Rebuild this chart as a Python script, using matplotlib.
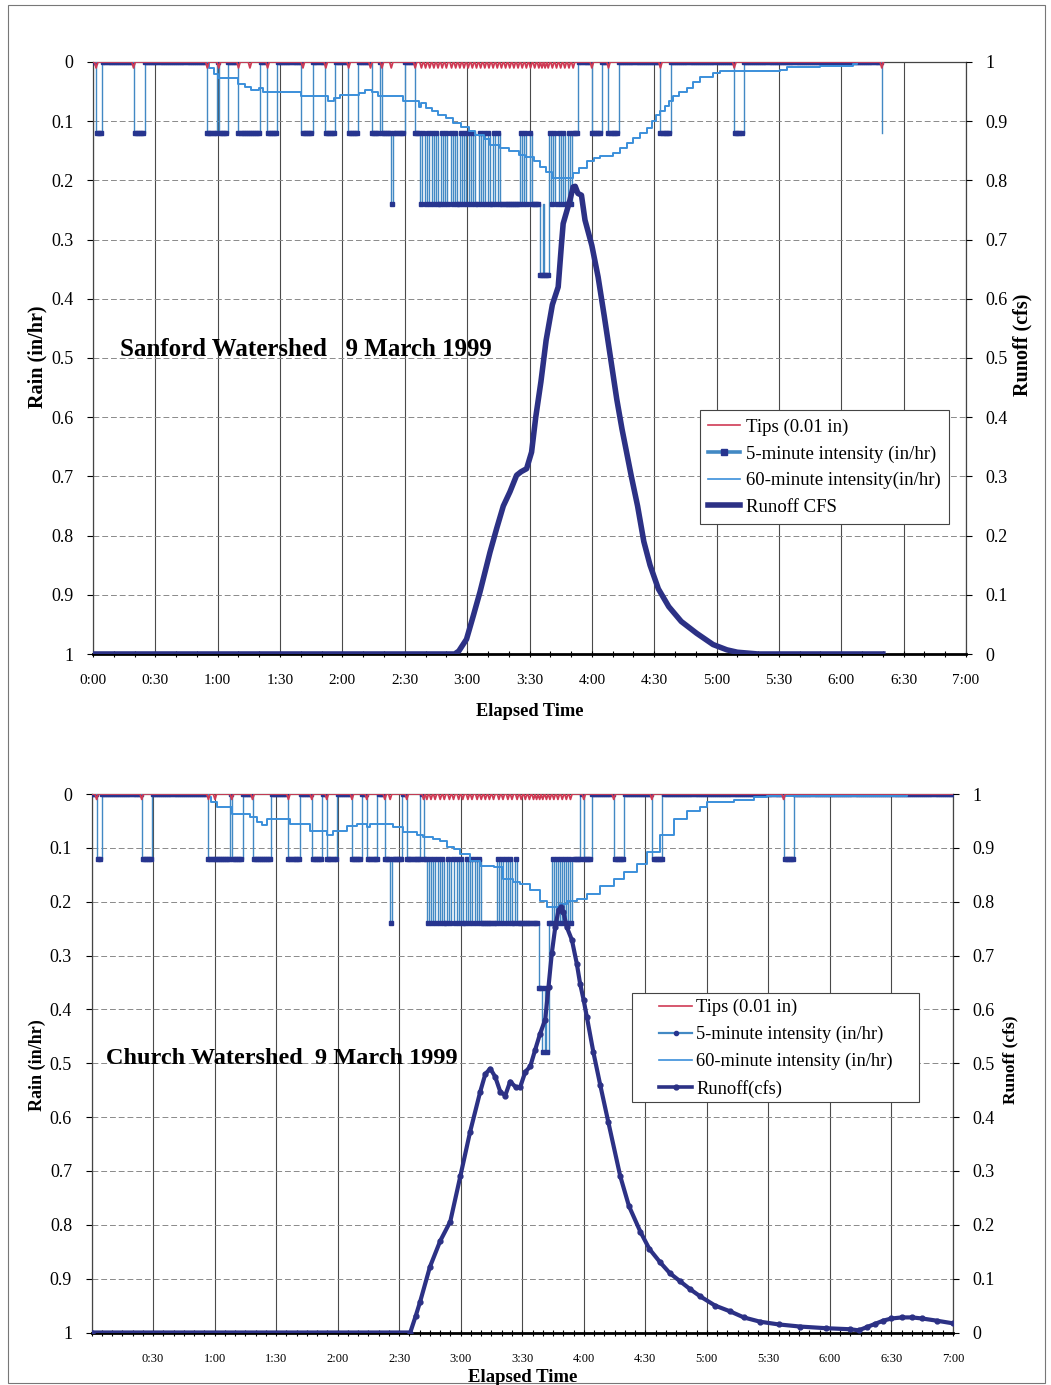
import numpy as np
import matplotlib.pyplot as plt
from matplotlib.lines import Line2D
from matplotlib.patches import Rectangle

plt.rcParams["font.family"] = ["Liberation Serif", "DejaVu Serif"]

W, H = 1051, 1385

# times are minutes after 0:00, rain in in/hr, runoff in cfs
time_ticks = list(range(0, 421, 30))
time_labels = ["0:00", "0:30", "1:00", "1:30", "2:00", "2:30", "3:00", "3:30",
               "4:00", "4:30", "5:00", "5:30", "6:00", "6:30", "7:00"]

# ---------------- Sanford ----------------
sanford_tips = [1.5, 19.5, 55, 60.5, 70, 75.5, 84, 101, 112, 123, 133.5, 139, 143.5, 155,
                158, 160, 162, 164, 166, 168, 170, 172.5, 174.5, 176.5, 178.5, 180.5,
                182.5, 184.5, 186.5, 188.5, 190.5, 192.5, 194.5, 196.5, 198.5, 200.5,
                202.5, 204.5, 206.5, 208.5, 210.5, 212.5, 214.5, 216, 217.5, 219, 221,
                223, 225, 227, 229, 231, 240, 248, 273, 308.5, 379.5]

sanford_5min = [(0, 0), (1.5, .12), (4.5, 0), (19.5, .12), (25, 0), (54.7, .12), (59.5, 0),
                (60.5, .12), (65, 0), (70, .12), (80.3, 0), (83.5, .12), (88.3, 0),
                (100.3, .12), (106, 0), (111.5, .12), (116.3, 0), (122.7, .12), (127.5, 0),
                (134, .12), (138, 0), (139, .12), (143.3, .24), (144.3, .12), (150, 0),
                (155, .12), (157.5, .24), (158.5, .12), (159.5, .24), (160.5, .12),
                (161.5, .24), (163, .12), (164, .24), (165, .12), (166, .24), (167.5, .12),
                (168.5, .24), (169.5, .12), (170.5, .24), (172, .12), (173, .24), (174, .12),
                (175, .24), (176.5, .12), (177.5, .24), (178.5, .12), (179.5, .24),
                (181, .12), (182, .24), (183, .12), (184, .24), (185.5, .12), (186.5, .24),
                (187.5, .12), (188.5, .24), (190, .12), (191, .24), (192.5, .12),
                (193.5, .24), (195, .12), (196, .24), (205.5, .12), (206.5, .24),
                (207.5, .12), (208.5, .24), (210, .12), (211, .24), (215, .36),
                (216.5, .24), (217, .36), (219.5, .12), (220.5, .24), (221.5, .12),
                (222.5, .24), (224, .12), (225, .24), (226, .12), (227, .24), (228.5, .12),
                (229.5, .24), (230.3, .12), (233.5, 0), (240, .12), (245, 0), (248, .12),
                (253, 0), (273, .12), (278, 0), (308.5, .12), (313, 0), (379.5, .12)]

sanford_60min = [(0, 0), (56, .01), (58, .02), (60, .027), (70, .038), (73, .042), (76, .047),
                 (80, .044), (82, .05), (100, .058), (113, .066), (116, .06), (119, .055),
                 (128, .052), (131, .047), (134, .05), (137, .057), (149, .066), (157, .076),
                 (158, .07), (160, .078), (163, .083), (166, .09), (170, .095), (173, .103),
                 (177, .11), (181, .117), (184, .123), (188, .13), (191, .14), (196, .145),
                 (200, .15), (205, .157), (208, .16), (212, .168), (215, .178), (218, .185),
                 (221, .196), (228, .196), (231, .188), (234, .179), (237.5, .168),
                 (241, .163), (244, .159), (250, .154), (253.5, .145), (257, .137),
                 (260, .128), (263, .12), (266.4, .111), (269, .1), (271, .09), (273, .083),
                 (275, .075), (277, .066), (279, .058), (282, .05), (285.6, .044),
                 (288.8, .033), (292, .026), (298.5, .019), (301.7, .016), (330.5, .013),
                 (333.8, .008), (349.8, .006), (365.8, .003), (367.4, 0), (380, 0)]

sanford_runoff = [(0, 0), (174, 0), (176, .005), (179.7, .025), (183, .065), (186.2, .105),
                  (191, .172), (194.2, .212), (197.4, .25), (200.6, .274), (203.8, .302),
                  (206, .308), (208.6, .313), (211, .341), (213, .4), (215.5, .46),
                  (218, .53), (221, .59), (223.8, .62), (225.4, .693), (226.2, .727),
                  (229.4, .766), (231, .789), (232, .79), (233.3, .778), (235, .775),
                  (236.7, .733), (240, .69), (243, .637), (246, .57), (249, .5), (252, .43),
                  (254.5, .38), (256.7, .341), (259, .3), (262, .25), (265, .19),
                  (268, .15), (272, .11), (277, .08), (283, .055), (290.4, .035),
                  (298.3, .016), (305, .007), (310, .003), (320, 0), (380, 0)]

# ---------------- Church ----------------
church_tips = [2.5, 24.5, 57, 60.2, 68.4, 78.5, 96, 107.4, 114.7, 127, 134.2, 143, 145.6,
               153.7, 161.9, 163.5, 165.5, 167.5, 170, 172, 174.5, 176.5, 179, 181, 183.5,
               185.5, 188, 190, 192, 194, 196, 198.6, 200.6, 203, 205, 207.5, 209.5, 211.5,
               213.5, 215.5, 217, 218.5, 220, 221.8, 223.5, 225.4, 227.4, 229.5, 231.5,
               233.5, 240, 254.6, 273.2, 337.4]

church_5min = [(0, 0), (2.5, .12), (5, 0), (24.5, .12), (29.5, 0), (57, .12), (67.5, 0),
               (68.4, .12), (74, 0), (78.5, .12), (87.5, 0), (96, .12), (101.7, 0),
               (107.4, .12), (112.3, 0), (114.7, .12), (119.6, 0), (126.9, .12), (131.8, 0),
               (134.2, .12), (139.1, 0), (143, .12), (145.6, .24), (146.6, .12), (151.3, 0),
               (153.7, .12), (160.2, 0), (161.9, .12), (163.5, .24), (164.5, .12),
               (165.5, .24), (166.5, .12), (167.5, .24), (169, .12), (170, .24), (171, .12),
               (172, .24), (173.5, .12), (174.5, .24), (175.5, .12), (176.5, .24),
               (178, .12), (179, .24), (180, .12), (181, .24), (182.5, .12), (183.5, .24),
               (184.5, .12), (185.5, .24), (187, .12), (188, .24), (189, .12), (190, .24),
               (197.6, .12), (198.6, .24), (199.6, .12), (200.6, .24), (202, .12),
               (203, .24), (204, .12), (205, .24), (206.5, .12), (207.5, .24), (218, .36),
               (219.5, .48), (221, .36), (221.8, .48), (222.8, .24), (224.4, .12),
               (225.4, .24), (226.4, .12), (227.4, .24), (228.5, .12), (229.5, .24),
               (230.5, .12), (231.5, .24), (232.5, .12), (233.5, .24), (234.2, .12),
               (238.2, 0), (240, .12), (244, 0), (254.6, .12), (259.4, 0), (273.2, .12),
               (278.1, 0), (337.4, .12), (342.3, 0), (420, 0)]

church_60min = [(0, 0), (57, .005), (58.5, .015), (61, .025), (68.3, .037), (77.3, .043),
                (80.5, .052), (83, .058), (85.4, .046), (96.8, .055), (106.5, .068),
                (114.7, .077), (117.9, .068), (124.4, .06), (129.3, .056), (134.2, .062),
                (136, .056), (147.2, .062), (152, .071), (158.6, .077), (161.8, .08),
                (166.7, .083), (170, .088), (173.2, .099), (176.5, .102), (179.7, .111),
                (184.6, .124), (189.5, .133), (196, .136), (200.8, .158), (205.7, .164),
                (209, .167), (213.9, .179), (218.7, .198), (222, .21), (228.5, .204),
                (232, .198), (236.6, .195), (241.5, .185), (248, .17), (254.5, .158),
                (259.4, .145), (265.9, .13), (270.8, .108), (277.3, .077), (283.8, .046),
                (290.3, .031), (296.8, .025), (300, .015), (313, .012), (322.8, .006),
                (329.3, .003), (397.6, 0), (420, 0)]

church_runoff = [(0, 0), (155.4, 0), (158, .03), (160.2, .057), (165, .122), (170, .17),
                 (174.9, .206), (179.8, .29), (184.6, .373), (189.5, .447), (192, .48),
                 (194.4, .49), (196.8, .475), (199.3, .447), (201.7, .44), (204.1, .466),
                 (207, .455), (209, .456), (211.5, .484), (213.9, .494), (216.3, .525),
                 (218.7, .555), (221.2, .581), (222.8, .642), (224.4, .704), (226.1, .753),
                 (227.7, .785), (229, .79), (230.1, .78), (231.7, .753), (234.2, .729),
                 (236.6, .685), (238.2, .648), (239.9, .618), (241.5, .586), (244.7, .52),
                 (248, .46), (252, .39), (257.8, .29), (262, .235), (267.6, .187),
                 (272, .155), (277.3, .13), (282, .11), (287, .095), (292, .08),
                 (296.8, .067), (304, .05), (311.5, .039), (318, .028), (326, .02),
                 (335, .015), (345.6, .011), (358, .008), (370, .006), (374, .004),
                 (378, .01), (382, .016), (386, .022), (390, .026), (395, .028), (400, .028),
                 (405, .026), (412, .022), (420, .017)]

TIPS_C = "#cf3b55"
FIVE_C = "#4289c4"
MARK_C = "#27358f"
SIXTY_C = "#3b8fda"
RUN_C = "#2c3185"


def px_axes(fig, x0, y0, x1, y1):
    return fig.add_axes([x0 / W, 1 - y1 / H, (x1 - x0) / W, (y1 - y0) / H])


def split(pairs):
    a = np.array(pairs, dtype=float)
    return a[:, 0], a[:, 1]


def tip_trace(tips, end):
    xs, ys = [0.0], [0.0]
    for t in tips:
        xs += [t - 0.8, t, t + 0.8]
        ys += [0, 0.01, 0]
    xs.append(end)
    ys.append(0)
    return xs, ys


def draw_panel(ax, tips, five, sixty, runoff, end, run_markers, xlab_size, show_zero):
    t5, v5 = split(five)
    t60, v60 = split(sixty)
    tr, vr = split(runoff)

    ax.set_xlim(0, 420)
    ax.set_ylim(1, 0)
    ax.set_xticks(time_ticks)
    labels = list(time_labels)
    if not show_zero:
        labels[0] = ""
    ax.set_xticklabels(labels, fontsize=xlab_size)
    ax.set_xticks(np.arange(0, 421, 5 if not show_zero else 10), minor=True)
    ax.set_yticks(np.arange(0, 1.01, 0.1))
    ax.set_yticklabels(["0"] + ["%.1f" % v for v in np.arange(0.1, 0.95, 0.1)] + ["1"],
                       fontsize=13)
    ax.grid(axis="x", color="#4a4a4a", lw=0.8)
    ax.grid(axis="y", color="#8a8a8a", lw=0.7, ls=(0, (6, 3)))
    ax.tick_params(axis="x", which="major", length=5, pad=12, direction="inout")
    ax.tick_params(axis="x", which="minor", length=4, direction="inout", width=0.8)
    ax.tick_params(axis="y", length=4, pad=10)
    for s in ("top", "left", "right"):
        ax.spines[s].set_color("#444444")
        ax.spines[s].set_linewidth(0.9)
    ax.spines["bottom"].set_linewidth(2.0)
    ax.spines["bottom"].set_color("black")

    # 5-minute intensity: steps, with a marker at each one-minute reading
    ax.plot(t5, v5, drawstyle="steps-post", color=FIVE_C, lw=1.0, zorder=3)
    mins = np.arange(0, t5[-1] + 0.01, 1.0)
    idx = np.clip(np.searchsorted(t5, mins, side="right") - 1, 0, None)
    ax.plot(mins, v5[idx], ls="none", marker="s", ms=2.6, color=MARK_C, zorder=3)
    ax.plot(t60, v60, drawstyle="steps-post", color=SIXTY_C, lw=1.4, zorder=4)
    tx, ty = tip_trace(tips, end)
    ax.plot(tx, ty, color=TIPS_C, lw=1.3, zorder=5)

    ax2 = ax.twinx()
    ax2.set_ylim(0, 1)
    ax2.set_yticks(np.arange(0, 1.01, 0.1))
    ax2.set_yticklabels(["0"] + ["%.1f" % v for v in np.arange(0.1, 0.95, 0.1)] + ["1"],
                        fontsize=13)
    ax2.tick_params(axis="y", length=4, pad=10)
    for s in ax2.spines.values():
        s.set_visible(False)
    if run_markers:
        ax2.plot(tr, vr, color=RUN_C, lw=3.0, marker="o", ms=3.5, zorder=6)
    else:
        ax2.plot(tr, vr, color=RUN_C, lw=4.0, zorder=6)
    return ax2


fig = plt.figure(figsize=(W / 100, H / 100), dpi=100)
fig.patch.set_facecolor("white")

# top panel: Sanford
ax_s = px_axes(fig, 93, 62, 966, 654)
ax_s2 = draw_panel(ax_s, sanford_tips, sanford_5min, sanford_60min, sanford_runoff,
                   380, False, 11, True)
h_s = [Line2D([], [], color=TIPS_C, lw=1.2),
       Line2D([], [], color=FIVE_C, lw=2.6, marker="s", ms=4, mfc=MARK_C, mec=MARK_C),
       Line2D([], [], color=SIXTY_C, lw=1.2),
       Line2D([], [], color=RUN_C, lw=4)]
ax_s2.legend(h_s, ["Tips (0.01 in)", "5-minute intensity (in/hr)",
                   "60-minute intensity(in/hr)", "Runoff CFS"],
             loc="upper left", bbox_to_anchor=(0.695, 0.412), fontsize=13.5,
             frameon=True, fancybox=False, edgecolor="#444444", framealpha=1,
             handlelength=1.7, handletextpad=0.3, borderpad=0.45, labelspacing=0.5,
             borderaxespad=0)
ax_s2.get_legend().get_frame().set_linewidth(0.8)

fig.text(120 / W, 1 - 350 / H, "Sanford Watershed   9 March 1999", fontsize=18,
         fontweight="bold", ha="left", va="center")
fig.text(37 / W, 1 - 357 / H, "Rain (in/hr)", fontsize=14.5, fontweight="bold",
         rotation=90, ha="center", va="center")
fig.text(1022 / W, 1 - 345 / H, "Runoff (cfs)", fontsize=14.5, fontweight="bold",
         rotation=90, ha="center", va="center")
fig.text(530 / W, 1 - 712 / H, "Elapsed Time", fontsize=13.2, fontweight="bold",
         ha="center", va="center")

# bottom panel: Church
ax_c = px_axes(fig, 91.5, 794, 953, 1332.5)
ax_c2 = draw_panel(ax_c, church_tips, church_5min, church_60min, church_runoff,
                   420, True, 9, False)
h_c = [Line2D([], [], color=TIPS_C, lw=1.2),
       Line2D([], [], color=FIVE_C, lw=1.6, marker="o", ms=3, mfc=MARK_C, mec=MARK_C),
       Line2D([], [], color=SIXTY_C, lw=1.2),
       Line2D([], [], color=RUN_C, lw=2.6, marker="o", ms=3.5)]
# legend box drawn separately so the entries can sit further in from its left edge
ax_c2.add_patch(Rectangle((0.627, 0.428), 0.334, 0.2024, transform=ax_c2.transAxes,
                          facecolor="white", edgecolor="#444444", lw=0.8, zorder=4.5))
ax_c2.legend(h_c, ["Tips (0.01 in)", "5-minute intensity (in/hr)",
                   "60-minute intensity (in/hr)", "Runoff(cfs)"],
             loc="upper left", bbox_to_anchor=(0.659, 0.619), fontsize=13.3,
             frameon=False, handlelength=1.8, handletextpad=0.2, borderpad=0,
             labelspacing=0.52, borderaxespad=0)

fig.text(106 / W, 1 - 1058 / H, "Church Watershed  9 March 1999", fontsize=17.5,
         fontweight="bold", ha="left", va="center")
fig.text(37 / W, 1 - 1065 / H, "Rain (in/hr)", fontsize=13, fontweight="bold",
         rotation=90, ha="center", va="center")
fig.text(1010 / W, 1 - 1060 / H, "Runoff (cfs)", fontsize=12.5, fontweight="bold",
         rotation=90, ha="center", va="center")
fig.text(523 / W, 1 - 1377 / H, "Elapsed Time", fontsize=13.5, fontweight="bold",
         ha="center", va="center")

# page frame
fig.add_artist(Rectangle((8 / W, 1 - 1383 / H), 1037 / W, 1378 / H, fill=False,
                         edgecolor="#777777", lw=0.8, transform=fig.transFigure))

fig.savefig("out.png", dpi=100)
